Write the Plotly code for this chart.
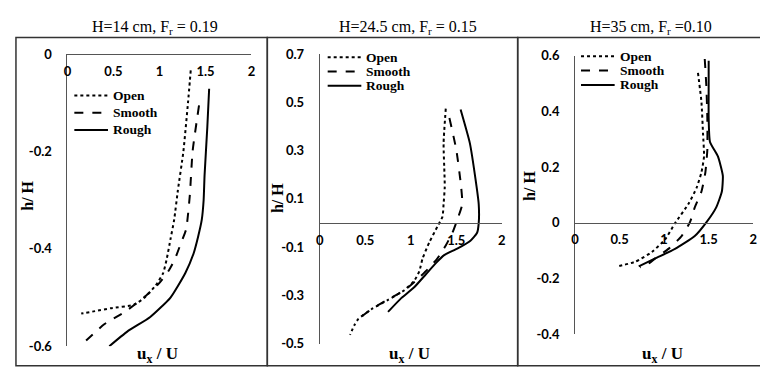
import plotly.graph_objects as go

# ---------------- data ----------------
# Panel 1: H=14 cm, Fr=0.19
p1_open_x = [1.34, 1.31, 1.26, 1.20, 1.16, 1.12, 1.08, 1.04, 0.96, 0.84, 0.72, 0.47, 0.30, 0.15]
p1_open_y = [-0.033, -0.10, -0.20, -0.28, -0.34, -0.38, -0.42, -0.45, -0.475, -0.50, -0.515, -0.522, -0.528, -0.533]
p1_smooth_x = [1.43, 1.36, 1.33, 1.29, 1.24, 1.17, 1.10, 0.99, 0.83, 0.62, 0.40, 0.15]
p1_smooth_y = [-0.105, -0.20, -0.29, -0.36, -0.385, -0.42, -0.445, -0.472, -0.50, -0.53, -0.555, -0.598]
p1_rough_x = [1.54, 1.52, 1.49, 1.48, 1.46, 1.42, 1.37, 1.28, 1.12, 0.90, 0.65, 0.455]
p1_rough_y = [-0.071, -0.15, -0.25, -0.30, -0.34, -0.375, -0.41, -0.45, -0.50, -0.54, -0.57, -0.60]

# Panel 2: H=24.5 cm, Fr=0.15
p2_open_x = [1.384, 1.36, 1.37, 1.373, 1.36, 1.348, 1.293, 1.203, 1.13, 1.094, 1.04, 0.93, 0.75, 0.568, 0.424, 0.38, 0.333]
p2_open_y = [0.474, 0.33, 0.20, 0.15, 0.078, 0.026, -0.014, -0.08, -0.146, -0.199, -0.238, -0.278, -0.318, -0.357, -0.397, -0.423, -0.463]
p2_smooth_x = [1.424, 1.50, 1.55, 1.565, 1.51, 1.457, 1.384, 1.293, 1.185, 1.058, 0.93, 0.714, 0.568, 0.424]
p2_smooth_y = [0.435, 0.303, 0.16, 0.078, 0.013, -0.04, -0.093, -0.146, -0.192, -0.238, -0.278, -0.324, -0.357, -0.397]
p2_rough_x = [1.547, 1.649, 1.71, 1.746, 1.746, 1.728, 1.655, 1.51, 1.366, 1.275, 1.166, 1.04, 0.895, 0.75]
p2_rough_y = [0.47, 0.33, 0.184, 0.078, 0.0, -0.04, -0.073, -0.106, -0.133, -0.166, -0.212, -0.265, -0.311, -0.368]

# Panel 3: H=35 cm, Fr=0.10
p3_open_x = [1.38, 1.419, 1.437, 1.448, 1.419, 1.363, 1.27, 1.122, 1.011, 0.863, 0.678, 0.478]
p3_open_y = [0.538, 0.433, 0.318, 0.238, 0.181, 0.124, 0.066, -0.002, -0.06, -0.105, -0.14, -0.157]
p3_smooth_x = [1.456, 1.474, 1.485, 1.485, 1.463, 1.419, 1.344, 1.289, 1.196, 1.048, 0.90, 0.807, 0.73]
p3_smooth_y = [0.588, 0.49, 0.376, 0.261, 0.181, 0.112, 0.055, 0.001, -0.048, -0.094, -0.128, -0.151, -0.16]
p3_rough_x = [1.50, 1.50, 1.50, 1.515, 1.604, 1.659, 1.648, 1.585, 1.474, 1.344, 1.122, 0.90, 0.715]
p3_rough_y = [0.582, 0.49, 0.376, 0.29, 0.238, 0.169, 0.112, 0.055, 0.001, -0.048, -0.094, -0.128, -0.157]

x_ticks = [0, 0.5, 1, 1.5, 2]
x_ticktext = ["0", "0.5", "1", "1.5", "2"]
p1_yticks = [0, -0.2, -0.4, -0.6]
p2_yticks = [0.7, 0.5, 0.3, 0.1, -0.1, -0.3, -0.5]
p3_yticks = [0.6, 0.4, 0.2, 0, -0.2, -0.4]

titles = ["H=14 cm, F<sub>r</sub> = 0.19", "H=24.5 cm, F<sub>r</sub> = 0.15", "H=35 cm, F<sub>r</sub> =0.10"]
series_names = ["Open", "Smooth", "Rough"]

# ---------------- figure ----------------
W, H = 768, 372
def px(x):
    return x / W
def py(y):
    return 1 - y / H

fig = go.Figure()
dashes = ["dot", "dash", "solid"]
panels = [
    ((p1_open_x, p1_open_y), (p1_smooth_x, p1_smooth_y), (p1_rough_x, p1_rough_y)),
    ((p2_open_x, p2_open_y), (p2_smooth_x, p2_smooth_y), (p2_rough_x, p2_rough_y)),
    ((p3_open_x, p3_open_y), (p3_smooth_x, p3_smooth_y), (p3_rough_x, p3_rough_y)),
]
for i, panel in enumerate(panels):
    ax = "" if i == 0 else str(i + 1)
    for j, (xs, ys) in enumerate(panel):
        fig.add_trace(go.Scatter(
            x=xs, y=ys, mode="lines", name=series_names[j],
            line=dict(color="black", width=2, dash=dashes[j], shape="spline", smoothing=0.5),
            xaxis="x" + ax, yaxis="y" + ax, showlegend=False,
        ))

tickfont = dict(family="Lato", size=13, color="black", weight="bold")
axline = dict(showline=True, linecolor="#555", linewidth=1, showgrid=False, zeroline=False,
              ticks="", tickfont=tickfont)

# domains (pixel based)
xdom = [(56, 242), (311, 495), (569, 749)]
ydom = [(345, 40), (342.5, 39.75), (332.4, 41.4)]
yr = [(-0.6, 0), (-0.5, 0.7), (-0.4, 0.6)]
yt = [p1_yticks, p2_yticks, p3_yticks]
xpos = [40, 216.5, 216]

lay = {}
for i in range(3):
    ax = "" if i == 0 else str(i + 1)
    lay["xaxis" + ax] = dict(
        domain=[px(xdom[i][0]), px(xdom[i][1])], range=[0, 2],
        anchor="free", position=py(xpos[i]),
        tickvals=x_ticks, ticktext=x_ticktext, ticklabelstandoff=5, **axline)
    lay["yaxis" + ax] = dict(
        domain=[py(ydom[i][0]), py(ydom[i][1])], range=list(yr[i]),
        anchor="x" + ax, tickvals=yt[i], ticktext=[("%g" % v) for v in yt[i]],
        ticklabelstandoff=12, **axline)
fig.update_layout(**lay)

# panel legends (line sample + label)
legfont = dict(family="Liberation Serif, serif", size=13.5, color="black", weight="bold")
leg_x = [63, 319, 575]
leg_y = [(83, 101, 119), (43, 58, 73), (42, 57, 72)]
for i in range(3):
    for j in range(3):
        yy = leg_y[i][j]
        fig.add_shape(type="line", xref="paper", yref="paper",
                      x0=px(leg_x[i]), x1=px(leg_x[i] + 34), y0=py(yy), y1=py(yy),
                      line=dict(color="black", width=2, dash=dashes[j]))
        fig.add_annotation(text=series_names[j], xref="paper", yref="paper",
                           x=px(leg_x[i] + 37), y=py(yy), showarrow=False,
                           xanchor="left", yanchor="middle", font=legfont)

# panel frames
frames = [(4, 258), (258, 511), (511, 763)]
for (a, b) in frames:
    fig.add_shape(type="rect", xref="paper", yref="paper",
                  x0=px(a), x1=px(b), y0=py(365.5), y1=py(22.5),
                  line=dict(color="#333", width=1.5), fillcolor="rgba(0,0,0,0)")

title_x = [145, 400, 646]
for i in range(3):
    fig.add_annotation(text=titles[i], xref="paper", yref="paper", x=px(title_x[i]), y=py(12),
                       showarrow=False, xanchor="center", yanchor="middle",
                       font=dict(family="Liberation Serif, serif", size=16, color="black"))

xlab_x = [147, 402, 657]
for i in range(3):
    fig.add_annotation(text="u<sub>x</sub> / U", xref="paper", yref="paper", x=px(xlab_x[i]), y=py(354),
                       showarrow=False, xanchor="center", yanchor="middle",
                       font=dict(family="Liberation Serif, serif", size=17, color="black", weight="bold"))

ylab = [(16, 188), (269, 190), (523, 178)]
for i in range(3):
    fig.add_annotation(text="h/ H", xref="paper", yref="paper", x=px(ylab[i][0]), y=py(ylab[i][1]),
                       showarrow=False, textangle=-90, xanchor="center", yanchor="middle",
                       font=dict(family="Liberation Serif, serif", size=16, color="black", weight="bold"))

fig.update_layout(width=W, height=H, margin=dict(l=0, r=0, t=0, b=0),
                  paper_bgcolor="white", plot_bgcolor="rgba(0,0,0,0)")

fig.write_html("out.html")
